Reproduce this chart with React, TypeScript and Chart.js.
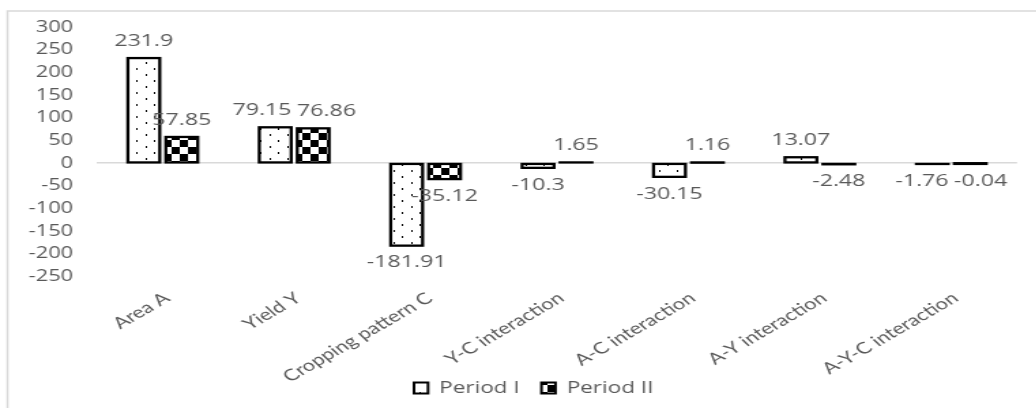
import React, { useEffect, useRef } from "react";
import { Chart, registerables } from "chart.js";

Chart.register(...registerables);

const categories = [
  "Area A",
  "Yield Y",
  "Cropping pattern C",
  "Y-C interaction",
  "A-C interaction",
  "A-Y interaction",
  "A-Y-C interaction",
];
const periodI = [231.9, 79.15, -181.91, -10.3, -30.15, 13.07, -1.76];
const periodII = [57.85, 76.86, -35.12, 1.65, 1.16, -2.48, -0.04];
const seriesNames = ["Period I", "Period II"];
const yMin = -250;
const yMax = 300;
const yStep = 50;

const STRETCH = 1.36;
const W = 1036 / STRETCH;
const H = 408;
const GRAY = "#595959";

function makeDots(): CanvasPattern | string {
  const c = document.createElement("canvas");
  c.width = 13;
  c.height = 12;
  const g = c.getContext("2d");
  if (!g) return "#fff";
  g.fillStyle = "#fff";
  g.fillRect(0, 0, 13, 12);
  g.fillStyle = "#000";
  g.fillRect(3, 2, 1, 2);
  g.fillRect(9, 8, 1, 2);
  return g.createPattern(c, "repeat") || "#fff";
}

function makeChecker(): CanvasPattern | string {
  const c = document.createElement("canvas");
  c.width = 12;
  c.height = 14;
  const g = c.getContext("2d");
  if (!g) return "#000";
  g.fillStyle = "#fff";
  g.fillRect(0, 0, 12, 14);
  g.fillStyle = "#000";
  g.fillRect(0, 0, 6, 7);
  g.fillRect(6, 7, 6, 7);
  return g.createPattern(c, "repeat") || "#000";
}

const borderPlugin = {
  id: "outerBorder",
  beforeDraw(chart: any) {
    const ctx = chart.ctx;
    ctx.save();
    ctx.strokeStyle = "#d9d9d9";
    ctx.lineWidth = 1.5;
    ctx.beginPath();
    ctx.moveTo(5.5, H + 10);
    ctx.lineTo(5.5, 11);
    ctx.lineTo(W + 10, 11);
    ctx.stroke();
    ctx.restore();
  },
};

// Excel-like outlines: stroke centred on each bar's edges so tiny bars still show
const barOutlinePlugin = {
  id: "barOutline",
  afterDatasetsDraw(chart: any) {
    const ctx = chart.ctx;
    ctx.save();
    ctx.strokeStyle = "#000";
    ctx.lineWidth = 2.3;
    chart.data.datasets.forEach((_ds: any, i: number) => {
      const meta = chart.getDatasetMeta(i);
      meta.data.forEach((bar: any) => {
        const p = bar.getProps(["x", "y", "base", "width"], true);
        const top = Math.min(p.y, p.base);
        const h = Math.abs(p.base - p.y);
        ctx.strokeRect(p.x - p.width / 2, top, p.width, h);
      });
    });
    ctx.restore();
  },
};

const valueLabelPlugin = {
  id: "valueLabels",
  afterDatasetsDraw(chart: any) {
    const ctx = chart.ctx;
    ctx.save();
    ctx.font = '17px "Open Sans"';
    ctx.fillStyle = GRAY;
    ctx.textAlign = "center";
    ctx.textBaseline = "middle";
    const items: any[] = [];
    chart.data.datasets.forEach((ds: any, i: number) => {
      const meta = chart.getDatasetMeta(i);
      meta.data.forEach((bar: any, j: number) => {
        const v = ds.data[j] as number;
        const p = bar.getProps(["x", "y", "base"], true);
        const top = Math.min(p.y, p.base);
        const bottom = Math.max(p.y, p.base);
        const ty = v >= 0 ? top - 17 : bottom + 17;
        const text = String(v);
        items.push({ cat: j, ds: i, text, x: p.x, y: ty, w: ctx.measureText(text).width });
      });
    });
    // push apart labels in the same category that would collide
    for (let a = 0; a < items.length; a++) {
      for (let b = 0; b < items.length; b++) {
        const A = items[a];
        const B = items[b];
        if (A.cat !== B.cat || A.ds >= B.ds) continue;
        if (Math.abs(A.y - B.y) > 16) continue;
        const need = (A.w + B.w) / 2 + 4;
        const have = B.x - A.x;
        if (have < need) {
          const d = (need - have) / 2;
          A.x -= d;
          B.x += d;
        }
      }
    }
    items.forEach((it) => ctx.fillText(it.text, it.x, it.y));
    ctx.restore();
  },
};

const LEGEND_DX = 18.5;
const LEGEND_TOP = 363.75;

const legendPatchPlugin = {
  id: "legendPatch",
  afterInit(chart: any) {
    const lg = chart.legend;
    if (lg && !lg.__patched) {
      const origFit = lg.fit;
      lg.fit = function (this: any) {
        origFit.call(this);
        this.__fullHeight = this.height;
        this.height = 2;
      };
      lg.__patched = true;
    }
  },
  afterLayout(chart: any) {
    const lg = chart.legend;
    if (!lg) return;
    const h = lg.__fullHeight || 48;
    lg.top = LEGEND_TOP;
    lg.bottom = LEGEND_TOP + h;
    lg.height = h;
    lg.left += LEGEND_DX;
    lg.right += LEGEND_DX;
  },
};

export default function App() {
  const ref = useRef<HTMLCanvasElement | null>(null);

  useEffect(() => {
    if (!ref.current) return;
    const dots = makeDots();
    const checker = makeChecker();
    const chart = new Chart(ref.current, {
      type: "bar",
      data: {
        labels: categories,
        datasets: [
          {
            label: seriesNames[0],
            data: periodI,
            backgroundColor: dots as any,
            borderColor: "#000",
            borderWidth: 0,
            categoryPercentage: 0.578,
            barPercentage: 0.84,
          },
          {
            label: seriesNames[1],
            data: periodII,
            backgroundColor: checker as any,
            borderColor: "#000",
            borderWidth: 0,
            categoryPercentage: 0.578,
            barPercentage: 0.84,
          },
        ],
      },
      options: {
        animation: false,
        responsive: true,
        maintainAspectRatio: false,
        layout: { padding: { left: 0, right: 15, top: 22.5, bottom: 0 } },
        plugins: {
          legend: {
            position: "bottom",
            labels: {
              font: { family: "Open Sans", size: 16.5 },
              color: GRAY,
              boxWidth: 10.3,
              boxHeight: 11,
              padding: 16,
              generateLabels(c: any) {
                const base = (Chart as any).defaults.plugins.legend.labels.generateLabels(c);
                return base.map((l: any) => ({ ...l, lineWidth: 2, strokeStyle: "#000" }));
              },
            },
          },
          tooltip: { enabled: false },
        },
        scales: {
          x: {
            grid: { display: false, drawTicks: false },
            border: { display: false },
            ticks: {
              font: { family: "Lato", size: 16 },
              color: GRAY,
              minRotation: 38,
              maxRotation: 38,
              autoSkip: false,
              padding: 12,
              labelOffset: 3,
            },
            afterFit(scale: any) {
              scale.height = 129.5;
            },
          },
          y: {
            min: yMin,
            max: yMax,
            grid: {
              drawTicks: false,
              lineWidth: 1.5,
              color: (c: any) => (c.tick && c.tick.value === 0 ? "#d9d9d9" : "rgba(0,0,0,0)"),
            },
            border: { display: false },
            ticks: {
              stepSize: yStep,
              font: { family: "Open Sans", size: 16 },
              color: GRAY,
              padding: 17.6,
            },
            afterFit(scale: any) {
              scale.width = 71.3;
            },
          },
        },
      },
      plugins: [borderPlugin, barOutlinePlugin, valueLabelPlugin, legendPatchPlugin],
    });
    return () => chart.destroy();
  }, []);

  return (
    <div
      style={{
        position: "fixed",
        left: 0,
        top: 0,
        width: 1036,
        height: H,
        overflow: "hidden",
        background: "#fff",
      }}
    >
      <div
        style={{
          position: "absolute",
          left: 0,
          top: 0,
          width: W,
          height: H,
          transform: `scaleX(${STRETCH})`,
          transformOrigin: "0 0",
        }}
      >
        <canvas ref={ref} />
      </div>
    </div>
  );
}
